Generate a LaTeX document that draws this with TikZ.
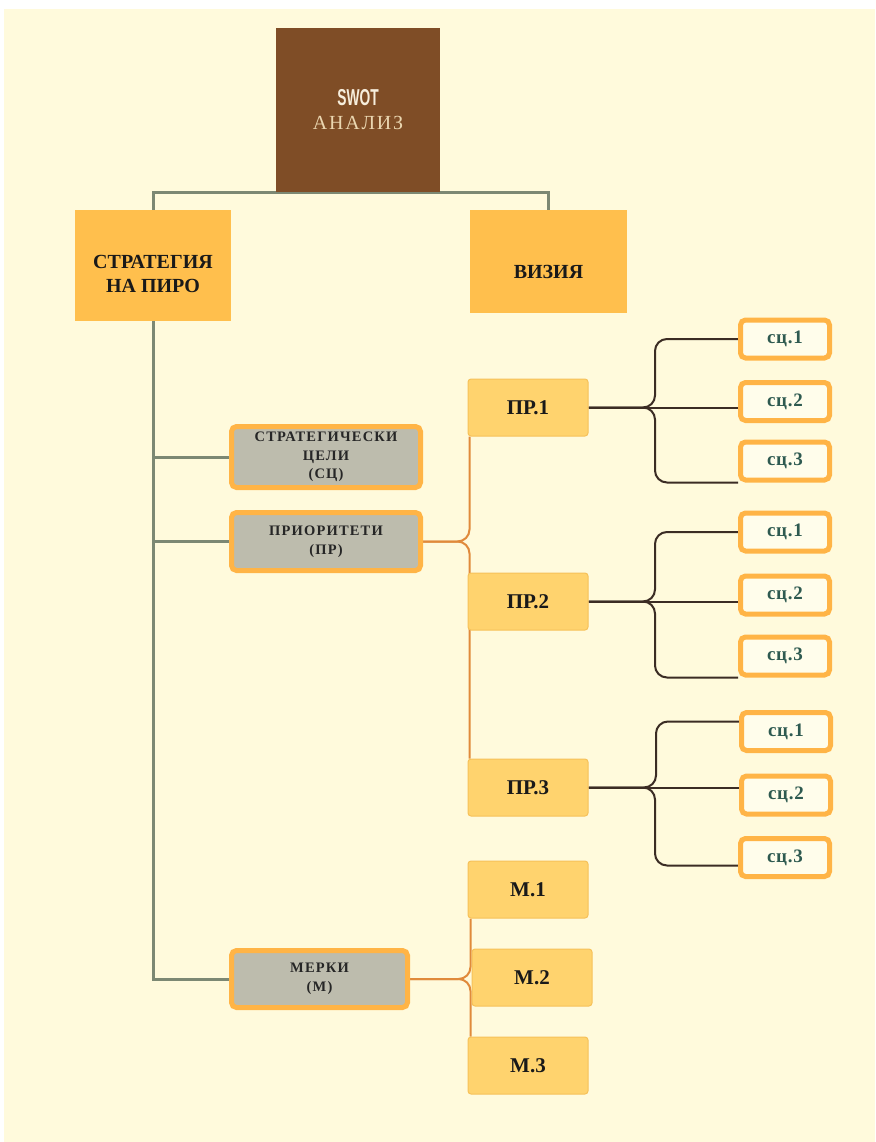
\documentclass[tikz,border=0pt]{standalone}
\usepackage{fontspec}
\setmainfont{Liberation Serif}
\newfontfamily\swotfont{Liberation Sans}
\newfontfamily\widefont[LetterSpace=9]{Liberation Serif}
\newfontfamily\gapfont[LetterSpace=8]{Liberation Serif}
\newfontfamily\scfont[LetterSpace=4]{Liberation Serif}
\definecolor{cream}{HTML}{FFFADC}
\definecolor{swotbrown}{HTML}{7F4D26}
\definecolor{swotwhite}{HTML}{F7EEDC}
\definecolor{analiz}{HTML}{EAD6B0}
\definecolor{orangebox}{HTML}{FFBF4D}
\definecolor{prfill}{HTML}{FFD36E}
\definecolor{prline}{HTML}{F6C15A}
\definecolor{grayfill}{HTML}{BDBCAD}
\definecolor{boxline}{HTML}{FFB446}
\definecolor{scfill}{HTML}{FFFDEB}
\definecolor{trunkgray}{HTML}{7C8873}
\definecolor{orline}{HTML}{E08A3B}
\definecolor{braceline}{HTML}{3B2C24}
\definecolor{scteal}{HTML}{2E5A50}
\pgfdeclarelayer{bg}
\pgfsetlayers{bg,main}

\begin{document}
\begin{tikzpicture}[x=1pt,y=-1pt,
  swotbox/.style={fill=swotbrown, minimum width=164pt, minimum height=164pt, align=center, inner sep=0pt, font=\fontsize{20}{24}\selectfont},
  topbox/.style={fill=orangebox, align=center, font=\fontsize{20}{24}\selectfont\bfseries, text=black!90},
  graybox/.style={fill=grayfill, draw=boxline, line width=5pt, rounded corners=5pt, minimum width=189pt, align=center, inner sep=1pt, font=\gapfont\fontsize{14.5}{18.5}\selectfont\bfseries, text=black!85},
  prbox/.style={fill=prfill, draw=prline, line width=1pt, rounded corners=3pt, minimum width=120pt, minimum height=57pt, font=\fontsize{21}{24}\selectfont\bfseries, text=black!90},
  scbox/.style={fill=scfill, draw=boxline, line width=5pt, rounded corners=5pt, minimum width=89pt, minimum height=38pt, font=\scfont\fontsize{19}{20}\selectfont\bfseries, text=scteal},
  grayline/.style={draw=trunkgray, line width=3pt},
  orline/.style={draw=orline, line width=2pt, rounded corners=12pt},
  braceline/.style={draw=braceline, line width=2pt, rounded corners=12pt}]
\useasboundingbox (0,0) rectangle (875,1142);
\begin{pgfonlayer}{bg}
\fill[white] (0,0) rectangle (875,1142);
\fill[cream] (4,9) rectangle (875,1142);
\end{pgfonlayer}

\node[swotbox] (swot) at (358,110) {{\swotfont\bfseries\fontsize{23}{24}\selectfont\color{swotwhite}\scalebox{0.6}[1]{SWOT}}\\{\widefont\color{analiz}АНАЛИЗ}};
\node[topbox, minimum width=156pt, minimum height=111pt] (strat) at (153,265.5) {\mbox{}\\[6pt]СТРАТЕГИЯ\\НА ПИРО};
\node[topbox, minimum width=157pt, minimum height=103pt] (vizia) at (548.5,261.5) {\mbox{}\\[10pt]ВИЗИЯ};
\node[graybox, minimum height=61pt] (goals) at (326,457) {СТРАТЕГИЧЕСКИ\\ЦЕЛИ\\(СЦ)};
\node[graybox, minimum height=58pt] (prio) at (326,541.5) {ПРИОРИТЕТИ\\(ПР)};
\node[graybox, minimum width=176pt, minimum height=57pt] (merki) at (319.5,979) {МЕРКИ\\(М)};
\node[prbox] (pr1) at (528,407.5) {ПР.1};
\node[prbox] (pr2) at (528,601.5) {ПР.2};
\node[prbox] (pr3) at (528,787.5) {ПР.3};
\node[prbox] (m1) at (528,889.5) {М.1};
\node[prbox] (m2) at (532,977.5) {М.2};
\node[prbox] (m3) at (528,1065.5) {М.3};
\node[scbox] (sc11) at (785,339) {сц.1};
\node[scbox] (sc12) at (785,401.5) {сц.2};
\node[scbox] (sc13) at (785,461) {сц.3};
\node[scbox] (sc21) at (785,532) {сц.1};
\node[scbox] (sc22) at (785,595) {сц.2};
\node[scbox] (sc23) at (785,656) {сц.3};
\node[scbox] (sc31) at (786,731.5) {сц.1};
\node[scbox] (sc32) at (786,795) {сц.2};
\node[scbox] (sc33) at (785,857.5) {сц.3};

\begin{pgfonlayer}{bg}
\draw[grayline] (swot.south) -| (strat.north);
\draw[grayline] (swot.south) -| (vizia.north);
\draw[grayline] (strat.south) |- (merki.west);
\draw[grayline] (strat.south |- goals.west) -- (goals.west);
\draw[grayline] (strat.south |- prio.west) -- (prio.west);
\draw[orline] (prio.east) -| ([xshift=2pt]pr1.south west);
\draw[orline] (prio.east) -| ([xshift=2pt]pr3.north west);
\draw[orline] (merki.east) -| ([xshift=3pt]m1.south west);
\draw[orline] (merki.east) -| ([xshift=3pt]m3.north west);
\draw[braceline] (pr1.east) -| ([xshift=-83pt]sc11.west) -- (sc11.west);
\draw[braceline] (pr1.east) -- (pr1.east -| sc12.west);
\draw[braceline] (pr1.east) -| ([xshift=-83pt]sc13.south west) -- (sc13.south west);
\draw[braceline] (pr2.east) -| ([xshift=-83pt]sc21.west) -- (sc21.west);
\draw[braceline] (pr2.east) -- (pr2.east -| sc22.west);
\draw[braceline] (pr2.east) -| ([xshift=-83pt]sc23.south west) -- (sc23.south west);
\draw[braceline] (pr3.east) -| ([xshift=-83pt,yshift=10pt]sc31.west) -- ([yshift=10pt]sc31.west);
\draw[braceline] (pr3.east) -- (pr3.east -| sc32.west);
\draw[braceline] (pr3.east) -| ([xshift=-83pt,yshift=-8pt]sc33.west) -- ([yshift=-8pt]sc33.west);
\end{pgfonlayer}
\end{tikzpicture}
\end{document}
